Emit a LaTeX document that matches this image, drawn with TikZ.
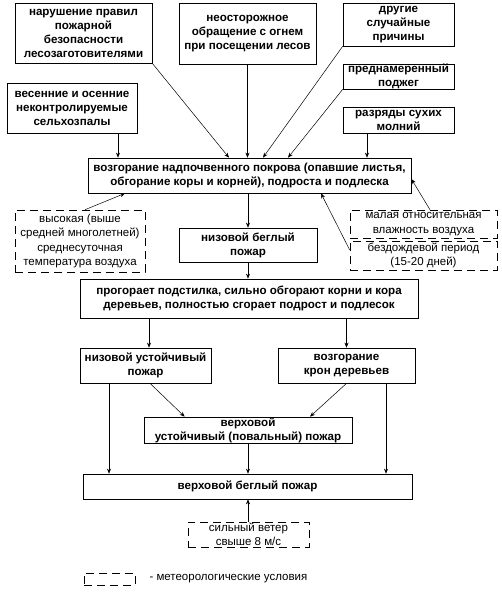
\documentclass[tikz,border=0pt]{standalone}
\usepackage{fontspec}
\setmainfont{Liberation Sans}
\usepackage{tikz}
\usetikzlibrary{arrows.meta}
\usetikzlibrary{positioning}
\tikzset{
  cause/.style={draw, line width=0.7pt, align=center, inner sep=0pt, fill=white, font=\fontsize{11.6}{14}\selectfont\bfseries},
  meteo/.style={draw, line width=0.6pt, dash pattern=on 8pt off 5pt, align=center, inner sep=0pt, font=\fontsize{11.5}{14.5}\selectfont},
  flow/.style={-{Stealth[length=5pt,width=4pt]}, line width=0.5pt}
}

\begin{document}
\begin{tikzpicture}[x=1pt, y=-1pt]
  \useasboundingbox (0,0) rectangle (502,594);

  % causes
  \node[cause, minimum width=137pt, minimum height=60pt] (viol) at (83.5,33) {нарушение правил\\пожарной\\безопасности\\лесозаготовителями};
  \node[cause, minimum width=137pt, minimum height=61pt] (care) at (247.5,33.5) {неосторожное\\обращение с огнем\\при посещении лесов};
  \node[cause, minimum width=111pt, minimum height=43pt] (rand) at (398.5,24.5) {другие\\случайные\\причины};
  \node[cause, minimum width=111pt, minimum height=25pt] (arson) at (398.5,76.5) {преднамеренный\\поджег};
  \node[cause, minimum width=111pt, minimum height=26pt] (light) at (398.5,120) {разряды сухих\\молний};
  \node[cause, minimum width=130pt, minimum height=50pt] (agro) at (72,108) {весенние и осенние\\неконтролируемые\\сельхозпалы};

  % fire stages
  \node[cause, minimum width=323pt, minimum height=35pt] (ign) at (249.5,175.5) {возгорание надпочвенного покрова (опавшие листья,\\обгорание коры и  корней), подроста и подлеска};
  \node[cause, minimum width=138pt, minimum height=34pt] (lowrun) at (248,245) {низовой беглый\\пожар};
  \node[cause, minimum width=338pt, minimum height=39pt] (burn) at (249,298.5) {прогорает подстилка, сильно обгорают корни и кора\\деревьев, полностью сгорает подрост и подлесок};
  \node[cause, minimum width=131pt, minimum height=35pt] (lowstay) at (145.5,365.5) {низовой устойчивый\\пожар};
  \node[cause, minimum width=137pt, minimum height=35pt] (crown) at (346.5,365.5) {возгорание\\крон деревьев};
  \node[cause, minimum width=208pt, minimum height=26pt] (topstay) at (248,430) {верховой\\устойчивый (повальный) пожар};
  \node[cause, minimum width=329pt, minimum height=25pt] (toprun) at (247.5,486.5) {верховой беглый пожар};

  % weather
  \node[meteo, minimum width=130pt, minimum height=62pt] (heat) at (80,241) {высокая (выше\\средней многолетней)\\среднесуточная\\температура воздуха};
  \node[meteo, minimum width=147pt, minimum height=28pt] (humid) at (423.5,224) {малая относительная\\влажность воздуха};
  \node[meteo, minimum width=147pt, minimum height=29pt] (dry) at (423.5,255.5) {бездождевой период\\(15-20 дней)};
  \node[meteo, minimum width=121pt, minimum height=25pt] (wind) at (248.5,534.5) {сильный ветер\\свыше 8 м/с};

  % legend
  \node[meteo, minimum width=51pt, minimum height=12pt] (leg) at (109.5,579) {};
  \node[right=14pt of leg, inner sep=0pt, font=\fontsize{11.5}{14}\selectfont] (legtxt) {- метеорологические условия};

  \draw[flow] ([xshift=46pt]agro.south) -- ([xshift=46pt]agro.south |- ign.north);
  \draw[flow] (viol.south east) -- ([xshift=-20.5pt]ign.north);
  \draw[flow] (care.south) -- (care.south |- ign.north);
  \draw[flow] (rand.south west) -- ([xshift=13.5pt]ign.north);
  \draw[flow] (arson.south west) -- ([xshift=38.5pt]ign.north);
  \draw[flow] ([xshift=-31.5pt]light.south) -- ([xshift=-31.5pt]light.south |- ign.north);
  \draw[flow] ([xshift=5pt]heat.north) -- ([xshift=-124.5pt]ign.south);
  \draw[flow] ([xshift=6.5pt]humid.north) -- ([yshift=-3.5pt]ign.east);
  \draw[flow] ([yshift=5.5pt]dry.west) -- ([xshift=71.5pt]ign.south);
  \draw[flow] (ign.south -| lowrun.north) -- (lowrun.north);
  \draw[flow] (lowrun.south) -- (lowrun.south |- burn.north);
  \draw[flow] ([xshift=3.5pt]lowstay.north |- burn.south) -- ([xshift=3.5pt]lowstay.north);
  \draw[flow] (burn.south -| crown.north) -- (crown.north);
  \draw[flow] ([xshift=-36.5pt]lowstay.south) -- ([xshift=-36.5pt]lowstay.south |- toprun.north);
  \draw[flow] ([xshift=4.5pt]lowstay.south) -- ([xshift=41pt]topstay.north west);
  \draw[flow] (crown.south) -- ([xshift=62pt]topstay.north);
  \draw[flow] ([xshift=39.5pt]crown.south) -- ([xshift=39.5pt]crown.south |- toprun.north);
  \draw[flow] (topstay.south) -- (topstay.south |- toprun.north);
  \draw[flow] (wind.north -| topstay.south) -- (toprun.south -| topstay.south);
\end{tikzpicture}
\end{document}
